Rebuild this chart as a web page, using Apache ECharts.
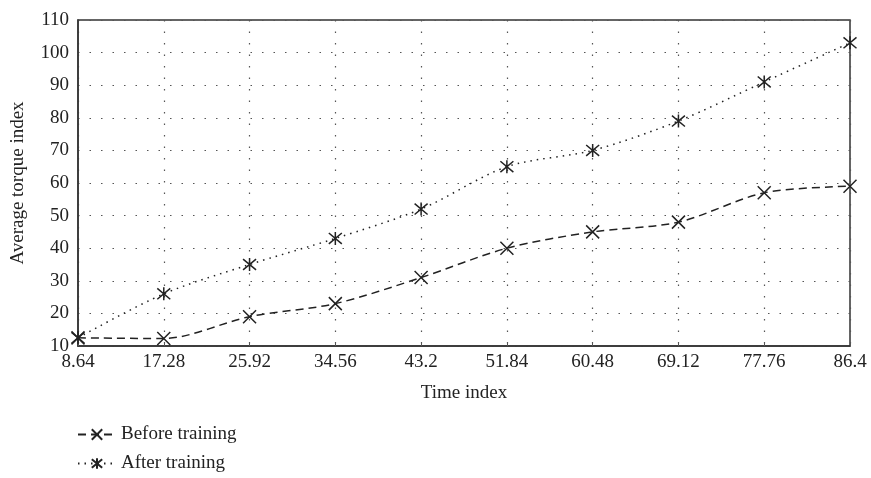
<!DOCTYPE html>
<html lang="en">
<head>
    <meta charset="UTF-8">
    <title>Average torque index</title>
    <style>
        html, body { margin: 0; padding: 0; background: #fff; }
    </style>
</head>
<body>
    <div id="chart" style="width:871px; height:478px"></div>

    <script src="https://cdn.jsdelivr.net/npm/echarts@6/dist/echarts.min.js"></script>
    <script>
        // x categories (time index)
        const timeIndex = ['8.64', '17.28', '25.92', '34.56', '43.2', '51.84', '60.48', '69.12', '77.76', '86.4'];
        const beforeTraining = [12.5, 12.3, 19, 23, 31, 40, 45, 48, 57, 59];
        const afterTraining = [12.5, 26, 35, 43, 52, 65, 70, 79, 91, 103];

        const serif = '"Liberation Serif", "DejaVu Serif", serif';
        const ink = '#222';

        // cross and asterisk markers
        const crossPath = 'path://M0,0L10,10M10,0L0,10';
        const starPath = 'path://M0,0L10,10M10,0L0,10M5,-1L5,11';

        const chart = echarts.init(document.getElementById('chart'));

        chart.setOption({
            animation: false,
            grid: {
                left: 78, right: 21, top: 20, bottom: 132,
                show: true,
                borderColor: '#333',
                borderWidth: 1.5
            },
            legend: {
                orient: 'vertical',
                left: 72,
                top: 420,
                itemWidth: 38,
                itemHeight: 13,
                itemGap: 10,
                textStyle: { fontFamily: serif, fontSize: 19, color: ink },
                data: ['Before training', 'After training']
            },
            xAxis: {
                type: 'category',
                data: timeIndex,
                boundaryGap: false,
                name: 'Time index',
                nameLocation: 'middle',
                nameGap: 38,
                nameTextStyle: { fontFamily: serif, fontSize: 19, color: ink },
                axisLine: { lineStyle: { color: '#333', width: 1.5 } },
                axisTick: { inside: true, length: 3, lineStyle: { color: '#555' } },
                axisLabel: { fontFamily: serif, fontSize: 19, color: ink, margin: 7 },
                splitLine: {
                    show: true,
                    lineStyle: { color: '#555', width: 1.2, type: [1.5, 10] }
                }
            },
            yAxis: {
                type: 'value',
                min: 10,
                max: 110,
                interval: 10,
                name: 'Average torque index',
                nameLocation: 'middle',
                nameGap: 50,
                nameTextStyle: { fontFamily: serif, fontSize: 19, color: ink },
                axisLine: { show: true, lineStyle: { color: '#333', width: 1.5 } },
                axisTick: { show: false },
                axisLabel: { fontFamily: serif, fontSize: 19, color: ink, margin: 9 },
                splitLine: {
                    show: true,
                    lineStyle: { color: '#555', width: 1.2, type: [1.5, 10] }
                }
            },
            series: [
                {
                    name: 'Before training',
                    type: 'line',
                    data: beforeTraining,
                    smooth: 0.3,
                    symbol: crossPath,
                    symbolSize: 13,
                    itemStyle: { color: 'none', borderColor: ink, borderWidth: 1.5 },
                    lineStyle: { color: ink, width: 1.5, type: [8, 5] }
                },
                {
                    name: 'After training',
                    type: 'line',
                    data: afterTraining,
                    smooth: 0.3,
                    symbol: starPath,
                    symbolSize: 13,
                    itemStyle: { color: 'none', borderColor: ink, borderWidth: 1.5 },
                    lineStyle: { color: ink, width: 1.5, type: [1.5, 5] }
                }
            ]
        });
    </script>
</body>
</html>
